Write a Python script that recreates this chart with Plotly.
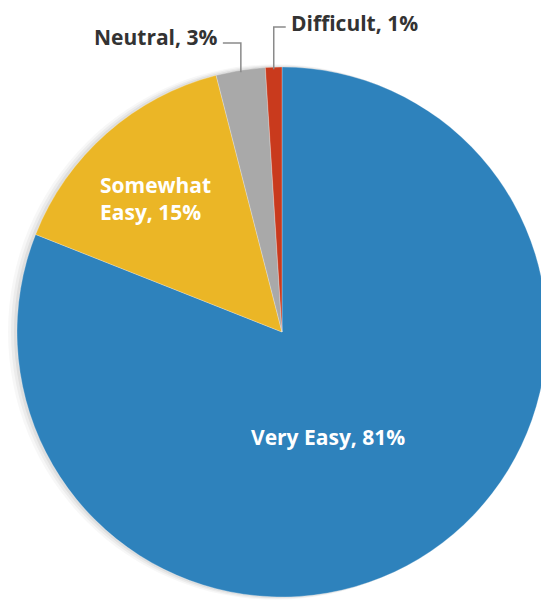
import math
import plotly.graph_objects as go

labels = ["Very Easy", "Somewhat Easy", "Neutral", "Difficult"]
values = [81, 15, 3, 1]
colors = ["#2e82bc", "#ebb626", "#a9a9a9", "#c93a1d"]

# page body has an 8px margin; figure sized to fit the 549x600 window
OFF = 8
W, H = 549 - OFF, 600 - OFF

# pie geometry in window pixels
CX, CY, RR = 282, 332, 265

def px2paper(x, y):
    """window pixel -> paper coords"""
    return (x - OFF) / W, 1 - (y - OFF) / H

x0, y0 = px2paper(CX - RR, CY + RR)
x1, y1 = px2paper(CX + RR, CY - RR)
dom_x = [max(0, x0), min(1, x1)]
dom_y = [max(0, y0), min(1, y1)]

fig = go.Figure()

# soft shadow on the left side of the pie
for off, op in [(9, 0.03), (6, 0.045), (3, 0.06)]:
    sx0, sy0 = px2paper(CX - RR - off, CY + RR + off * 0.3)
    sx1, sy1 = px2paper(CX + RR - off * 0.5, CY - RR - off * 0.3)
    fig.add_shape(type="circle", xref="paper", yref="paper",
                  x0=sx0, x1=sx1, y0=sy0, y1=sy1,
                  fillcolor="black", opacity=op, line_width=0, layer="below")

fig.add_trace(go.Pie(
    labels=labels, values=values, sort=False, direction="clockwise", rotation=0,
    marker=dict(colors=colors, line=dict(color="rgba(255,255,255,0.45)", width=0.6)),
    textinfo="none", hoverinfo="label+percent",
    domain=dict(x=dom_x, y=dom_y), showlegend=False,
))

# mid angle of each slice (degrees clockwise from top)
total = sum(values)
cum = 0
mids = []
for v in values:
    mids.append((cum + v / 2) / total * 360)
    cum += v

def edge_point(angle, r):
    a = math.radians(angle)
    return CX + r * math.sin(a), CY - r * math.cos(a)

font_white = dict(family="Open Sans", size=21, color="white", weight=700)
font_dark = dict(family="Open Sans", size=21, color="#333333", weight=700)

# inside labels
x, y = px2paper(328, 437)
fig.add_annotation(x=x, y=y, xref="paper", yref="paper", text=f"{labels[0]}, {values[0]}%",
                   showarrow=False, font=font_white, xanchor="center", yanchor="middle")
x, y = px2paper(98, 198)
fig.add_annotation(x=x, y=y, xref="paper", yref="paper", text=f"Somewhat<br>Easy, {values[1]}%",
                   showarrow=False, font=font_white, xanchor="left", yanchor="middle", align="left")

def path_px(points):
    parts = []
    for i, (px, py) in enumerate(points):
        qx, qy = px2paper(px, py)
        parts.append(("M" if i == 0 else "L") + f" {qx},{qy}")
    return " ".join(parts)

# outside labels with elbow leader lines
ex, ey = edge_point(mids[2], RR - 2)
hy = 43
fig.add_shape(type="path", xref="paper", yref="paper",
              path=path_px([(ex - 18, hy), (ex, hy), (ex, ey)]),
              line=dict(color="#8a8a8a", width=1.5))
x, y = px2paper(ex - 22, 37)
fig.add_annotation(x=x, y=y, xref="paper", yref="paper", text=f"{labels[2]}, {values[2]}%",
                   showarrow=False, font=font_dark, xanchor="right", yanchor="middle")

ex, ey = edge_point(mids[3], RR - 2)
hy = 27
fig.add_shape(type="path", xref="paper", yref="paper",
              path=path_px([(ex + 12, hy), (ex, hy), (ex, ey)]),
              line=dict(color="#8a8a8a", width=1.5))
x, y = px2paper(ex + 15, 23)
fig.add_annotation(x=x, y=y, xref="paper", yref="paper", text=f"{labels[3]}, {values[3]}%",
                   showarrow=False, font=font_dark, xanchor="left", yanchor="middle")

fig.update_layout(width=W, height=H, margin=dict(l=0, r=0, t=0, b=0),
                  paper_bgcolor="white", plot_bgcolor="white")
fig.write_html("out.html")
